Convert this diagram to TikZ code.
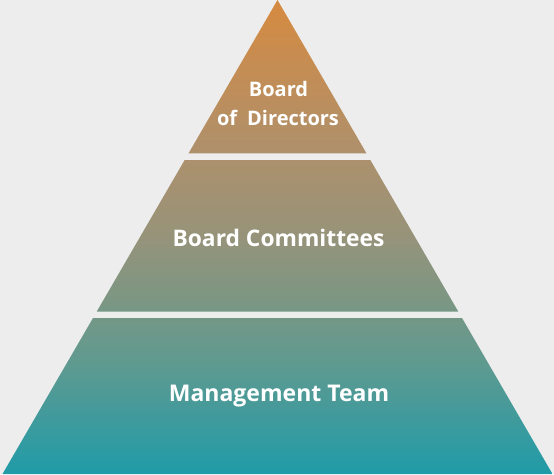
\documentclass[tikz,border=0pt]{standalone}
\usepackage{fontspec}
\setmainfont{Open Sans}
\usetikzlibrary{calc}
\definecolor{bgc}{HTML}{EDEDED}
\definecolor{c0}{HTML}{D68A40}
\definecolor{c1}{HTML}{B0906A}
\definecolor{c2}{HTML}{96937A}
\definecolor{c3}{HTML}{7E9682}
\definecolor{c4}{HTML}{5E9A90}
\definecolor{c5}{HTML}{209BA8}
\pgfdeclareverticalshading{pyrshade}{100bp}{color(0bp)=(c5); color(25bp)=(c5); color(36.5bp)=(c4); color(43.9bp)=(c3); color(50bp)=(c2); color(59.7bp)=(c1); color(75bp)=(c0); color(100bp)=(c0)}
\tikzset{
  lbl/.style={text=white, font=\bfseries, inner sep=0pt, anchor=base},
}
\begin{document}
\begin{tikzpicture}[x=1pt,y=1pt]
\fill[bgc] (0,0) rectangle (554,474);
\useasboundingbox (0,0) rectangle (554,474);
\coordinate (A) at (277.5,474);
\coordinate (BL) at (2.5,0);
\coordinate (BR) at (552.5,0);
\begin{scope}
\clip (A) -- ($(A)!0.3238!(BR)$) -- ($(A)!0.3238!(BL)$) -- cycle
      ($(A)!0.3376!(BL)$) -- ($(A)!0.3376!(BR)$) -- ($(A)!0.6572!(BR)$) -- ($(A)!0.6572!(BL)$) -- cycle
      ($(A)!0.6709!(BL)$) -- ($(A)!0.6709!(BR)$) -- (BR) -- (BL) -- cycle;
\shade[shading=pyrshade] (BL) -- (BR) -- (A) -- cycle;
\end{scope}
\node[lbl, font=\bfseries\fontsize{20}{24}\selectfont] (dir1) at (278.5,377.3) {Board};
\node[lbl, font=\bfseries\fontsize{20}{24}\selectfont] (dir2) at (278,348) {of\hspace{0.5em}Directors};
\node[lbl, font=\bfseries\fontsize{22.8}{27}\selectfont] (com) at (278.5,227.3) {Board Committees};
\node[lbl, font=\bfseries\fontsize{23}{27}\selectfont] (man) at (279,72.3) {Management Team};
\end{tikzpicture}
\end{document}
